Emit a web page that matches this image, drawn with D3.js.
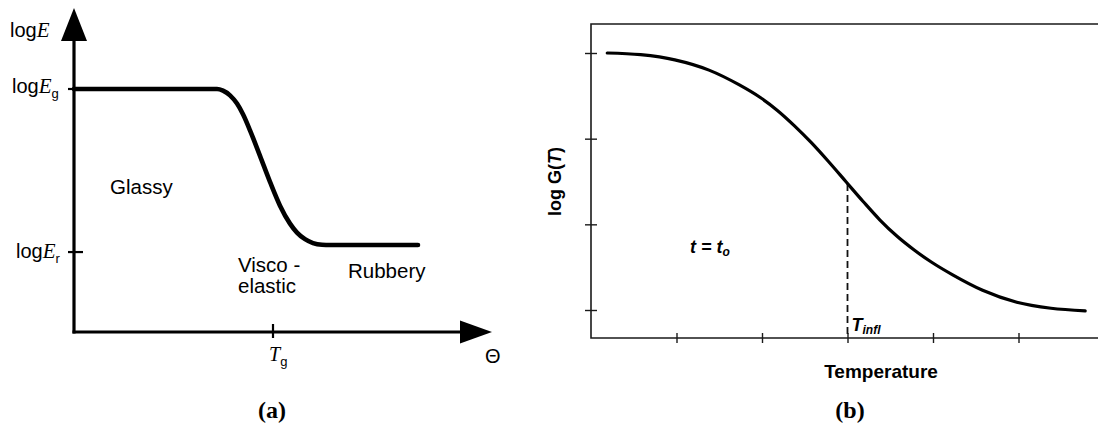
<!DOCTYPE html>
<html>
<head>
<meta charset="utf-8">
<script src="https://cdn.jsdelivr.net/npm/d3@7"></script>
<style>
  html, body { margin: 0; padding: 0; background: #fff; }
  svg { display: block; }
</style>
</head>
<body>
<svg id="chart" width="1098" height="432"></svg>
<script>
// ---- Panel (a): modulus vs. temperature (schematic) ----
const thetaA = [0, 20, 32.75, 35.75, 37.25, 39, 40.75, 42.25, 44, 46.5, 49, 51.5, 54, 55.75, 57.75, 59.75, 62, 64, 75, 86];
const logEA  = [100, 100, 100, 100, 99.3, 97.4, 94.0, 89.6, 83.0, 72.5, 61.8, 52.0, 44.6, 40.9, 38.2, 36.6, 35.9, 35.8, 35.8, 35.8];
const levelTicksA = [100, 32.9];          // log Eg, log Er
const levelLabelsA = [["log", "E", "g"], ["log", "E", "r"]];
const tgValueA = 49.75;

// ---- Panel (b): log G(T) vs. temperature ----
const tempB = [0.19, 0.58, 0.98, 1.38, 1.73, 1.98, 2.18, 2.38, 2.58, 2.78, 2.98, 3.18, 3.38, 3.58, 3.78, 3.98, 4.23, 4.58, 4.98, 5.38, 5.78];
const logGB = [4.00, 3.98, 3.92, 3.80, 3.63, 3.48, 3.33, 3.15, 2.95, 2.73, 2.50, 2.27, 2.05, 1.86, 1.70, 1.56, 1.41, 1.23, 1.09, 1.02, 0.99];
const xTicksB = [1, 2, 3, 4, 5];
const yTicksB = [1, 2, 3, 4];
const tInflB = 3;
const gInflB = 2.47;

const svg = d3.select("#chart");
const SANS = "'Liberation Sans', Arial, Helvetica, sans-serif";
const SERIF = "'Liberation Serif', 'Times New Roman', serif";

// ================= Panel (a) =================
const ax = d3.scaleLinear().domain([0, 100]).range([74, 474]);
const ay = d3.scaleLinear().domain([0, 100]).range([332, 89]);
const gA = svg.append("g");

const axisStroke = 3.2;
// y axis with arrow
gA.append("line").attr("x1", ax(0)).attr("x2", ax(0)).attr("y1", ay(0) + 1.5).attr("y2", 36)
  .attr("stroke", "#000").attr("stroke-width", axisStroke);
gA.append("path").attr("d", `M${ax(0)},8 L${ax(0) + 13},41 L${ax(0) - 13},41 Z`).attr("fill", "#000");
// x axis with arrow
gA.append("line").attr("x1", ax(0) - 1.5).attr("x2", 464).attr("y1", ay(0)).attr("y2", ay(0))
  .attr("stroke", "#000").attr("stroke-width", axisStroke);
gA.append("path").attr("d", `M492,${ay(0)} L460,${ay(0) - 11.5} L460,${ay(0) + 11.5} Z`).attr("fill", "#000");

// level ticks
levelTicksA.forEach((v) => {
  gA.append("line").attr("x1", ax(0) - 6).attr("x2", ax(0) + 9).attr("y1", ay(v)).attr("y2", ay(v))
    .attr("stroke", "#000").attr("stroke-width", 2.2);
});
// Tg tick
gA.append("line").attr("x1", ax(tgValueA)).attr("x2", ax(tgValueA)).attr("y1", ay(0) - 8).attr("y2", ay(0) + 6)
  .attr("stroke", "#000").attr("stroke-width", 2.2);

// curve
const lineA = d3.line().x((d, i) => ax(thetaA[i])).y((d, i) => ay(logEA[i])).curve(d3.curveMonotoneX);
gA.append("path").datum(thetaA).attr("d", lineA)
  .attr("fill", "none").attr("stroke", "#000").attr("stroke-width", 4.6)
  .attr("stroke-linecap", "round").attr("stroke-linejoin", "round");

// axis title log E
const tLogE = gA.append("text").attr("x", 10).attr("y", 37)
  .attr("font-family", SANS).attr("font-size", 20).attr("fill", "#000");
tLogE.append("tspan").text("log");
tLogE.append("tspan").attr("font-family", SERIF).attr("font-style", "italic").attr("font-size", 21).text("E");

// level labels
const levelX = [12, 16];
levelTicksA.forEach((v, i) => {
  const [a, b, c] = levelLabelsA[i];
  const t = gA.append("text").attr("x", levelX[i]).attr("y", ay(v) + 4 + (i === 1 ? 2 : 0))
    .attr("font-family", SANS).attr("font-size", 20).attr("fill", "#000");
  t.append("tspan").text(a);
  t.append("tspan").attr("font-family", SERIF).attr("font-style", "italic").attr("font-size", 21).text(b);
  t.append("tspan").attr("font-size", 13).attr("dy", 5).text(c);
});

// Tg label
const tTg = gA.append("text").attr("x", ax(tgValueA) - 4).attr("y", 361)
  .attr("font-family", SERIF).attr("font-size", 20).attr("fill", "#000");
tTg.append("tspan").attr("font-style", "italic").text("T");
tTg.append("tspan").attr("font-family", SANS).attr("font-size", 13).attr("dy", 5).text("g");

// Theta label
gA.append("text").attr("x", 485).attr("y", 363).attr("font-family", SANS).attr("font-size", 20)
  .attr("fill", "#000").text("Θ");

// region labels
const regionText = (x, y, s) => gA.append("text").attr("x", x).attr("y", y)
  .attr("font-family", SANS).attr("font-size", 20.5).attr("fill", "#000").text(s);
regionText(110, 194, "Glassy");
regionText(238, 272, "Visco -");
regionText(238, 293, "elastic");
regionText(348, 278, "Rubbery");

// panel letter
gA.append("text").attr("x", 272).attr("y", 418).attr("text-anchor", "middle")
  .attr("font-family", SERIF).attr("font-weight", "bold").attr("font-size", 24).attr("fill", "#000").text("(a)");

// ================= Panel (b) =================
const bx = d3.scaleLinear().domain([0, 5]).range([591, 1018.5]);
const by = d3.scaleLinear().domain([1, 4]).range([310, 53]);
const gB = svg.append("g");
const frameTop = 24, frameBottom = 338;

// frame (right side runs past the page edge)
gB.append("path").attr("d", `M1110,${frameTop} L${bx(0)},${frameTop} L${bx(0)},${frameBottom} L1110,${frameBottom}`)
  .attr("fill", "none").attr("stroke", "#1a1a1a").attr("stroke-width", 1.6);

// axes: ticks straddle the frame lines
const yAxisB = d3.axisLeft(by).tickValues(yTicksB).tickSize(6).tickFormat("");
const yAxG = gB.append("g").attr("transform", `translate(${bx(0)},0)`).call(yAxisB);
yAxG.select(".domain").remove();
yAxG.selectAll(".tick line").attr("x1", 6).attr("stroke", "#1a1a1a").attr("stroke-width", 1.4);

const xAxisB = d3.axisBottom(bx).tickValues(xTicksB).tickSize(5).tickFormat("");
const xAxG = gB.append("g").attr("transform", `translate(0,${frameBottom})`).call(xAxisB);
xAxG.select(".domain").remove();
xAxG.selectAll(".tick line").attr("y1", -5).attr("stroke", "#1a1a1a").attr("stroke-width", 1.4);

// inflection marker
gB.append("line").attr("x1", bx(tInflB)).attr("x2", bx(tInflB)).attr("y1", by(gInflB)).attr("y2", frameBottom)
  .attr("stroke", "#111").attr("stroke-width", 1.8).attr("stroke-dasharray", "7,4");

// curve
const lineB = d3.line().x((d, i) => bx(tempB[i])).y((d, i) => by(logGB[i])).curve(d3.curveMonotoneX);
gB.append("path").datum(tempB).attr("d", lineB)
  .attr("fill", "none").attr("stroke", "#000").attr("stroke-width", 3.2)
  .attr("stroke-linecap", "round");

// y axis title
const tLogG = gB.append("text").attr("transform", `translate(561,${by(2.5)}) rotate(-90)`)
  .attr("text-anchor", "middle").attr("font-family", SANS).attr("font-weight", "bold")
  .attr("font-size", 18).attr("fill", "#000");
tLogG.append("tspan").text("log G(");
tLogG.append("tspan").attr("font-style", "italic").text("T");
tLogG.append("tspan").text(")");

// x axis title
gB.append("text").attr("x", 881).attr("y", 378).attr("text-anchor", "middle")
  .attr("font-family", SANS).attr("font-weight", "bold").attr("font-size", 19).attr("fill", "#000")
  .text("Temperature");

// t = t0
const tT0 = gB.append("text").attr("x", 690).attr("y", 253)
  .attr("font-family", SANS).attr("font-weight", "bold").attr("font-style", "italic")
  .attr("font-size", 18).attr("fill", "#000");
tT0.append("tspan").text("t = t");
tT0.append("tspan").attr("font-size", 12).attr("dy", 3).text("o");

// T infl
const tInfl = gB.append("text").attr("x", bx(tInflB) + 4).attr("y", 331)
  .attr("font-family", SANS).attr("font-weight", "bold").attr("font-style", "italic")
  .attr("font-size", 18).attr("fill", "#000");
tInfl.append("tspan").text("T");
tInfl.append("tspan").attr("font-size", 12).attr("dy", 3).text("infl");

// panel letter
gB.append("text").attr("x", 850).attr("y", 418).attr("text-anchor", "middle")
  .attr("font-family", SERIF).attr("font-weight", "bold").attr("font-size", 24).attr("fill", "#000").text("(b)");
</script>
</body>
</html>
